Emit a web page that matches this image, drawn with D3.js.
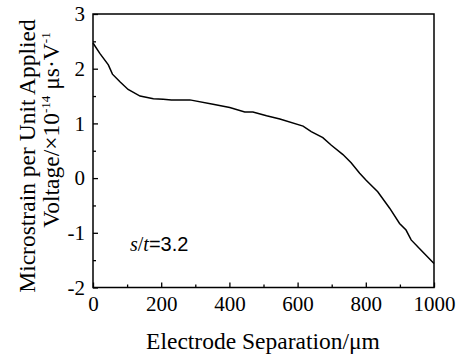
<!DOCTYPE html>
<html>
<head>
<meta charset="utf-8">
<script src="https://cdn.jsdelivr.net/npm/d3@7"></script>
<style>
  body { margin: 0; background: #fff; }
  svg text { font-family: "Liberation Serif", "Times New Roman", serif; fill: #000; }
</style>
</head>
<body>
<div id="chart"></div>
<script>
// data
const separation = [0, 20, 45, 57, 79, 103, 138, 177, 206, 230, 284, 352, 401, 445, 469, 509, 548,
  616, 640, 674, 699, 733, 757, 782, 801, 835, 870, 899, 918, 933, 958, 1000];
const microstrain = [2.47, 2.28, 2.07, 1.90, 1.76, 1.62, 1.50, 1.45, 1.44, 1.43, 1.43, 1.35, 1.29, 1.21, 1.21, 1.14, 1.08,
  0.95, 0.85, 0.74, 0.60, 0.43, 0.28, 0.09, -0.04, -0.25, -0.55, -0.83, -0.95, -1.13, -1.29, -1.56];
const xTicks = [0, 200, 400, 600, 800, 1000];
const yTicks = [-2, -1, 0, 1, 2, 3];

let width = 460, height = 356,
    margin = ({ top: 14, right: 26, bottom: 68.5, left: 93 });

const svg = d3.select("#chart").append("svg")
  .attr("width", width).attr("height", height);

let x = d3.scaleLinear().domain([0, 1000]).range([margin.left, width - margin.right]);
let y = d3.scaleLinear().domain([-2, 3]).range([height - margin.bottom, margin.top]);

// bottom axis, ticks inward (minor ticks first)
svg.append("g")
  .attr("transform", `translate(0,${height - margin.bottom})`)
  .call(d3.axisBottom(x).tickValues(d3.range(100, 1000, 200)).tickSize(-3).tickFormat(""))
  .call(g => g.select(".domain").remove());
svg.append("g")
  .attr("transform", `translate(0,${height - margin.bottom})`)
  .call(d3.axisBottom(x).tickValues(xTicks).tickSize(-5).tickPadding(9).tickFormat(d => String(d)))
  .call(g => g.select(".domain").remove())
  .call(g => g.selectAll("text").style("font-size", "21px"));

// left axis
svg.append("g")
  .attr("transform", `translate(${margin.left},0)`)
  .call(d3.axisLeft(y).tickValues(d3.range(-1.5, 3, 1)).tickSize(-3).tickFormat(""))
  .call(g => g.select(".domain").remove());
svg.append("g")
  .attr("transform", `translate(${margin.left},0)`)
  .call(d3.axisLeft(y).tickValues(yTicks).tickSize(-5).tickPadding(8).tickFormat(d => String(d)))
  .call(g => g.select(".domain").remove())
  .call(g => g.selectAll("text").style("font-size", "21px"));

svg.selectAll(".tick line").attr("stroke", "#000").attr("stroke-width", 1.3);

// frame
svg.append("rect")
  .attr("x", margin.left).attr("y", margin.top)
  .attr("width", width - margin.left - margin.right)
  .attr("height", height - margin.top - margin.bottom)
  .attr("fill", "none").attr("stroke", "#000").attr("stroke-width", 1.5);

// the curve
const line = d3.line().x((d, i) => x(separation[i])).y(d => y(d));
svg.append("path")
  .datum(microstrain)
  .attr("d", line)
  .attr("fill", "none")
  .attr("stroke", "#000")
  .attr("stroke-width", 1.5);

// annotation
const note = svg.append("text").attr("x", 130).attr("y", 251).style("font-size", "20px");
note.append("tspan").style("font-style", "italic").text("s");
note.append("tspan").text("/");
note.append("tspan").style("font-style", "italic").text("t");
note.append("tspan").style("font-family", "Liberation Sans, Arial, sans-serif").text("=3.2");

// axis titles
svg.append("text")
  .attr("x", 263).attr("y", 349)
  .attr("text-anchor", "middle").style("font-size", "23.5px")
  .text("Electrode Separation/μm");

const ylab = svg.append("g").attr("transform", "rotate(-90)");
ylab.append("text")
  .attr("x", -156).attr("y", 35)
  .attr("text-anchor", "middle").style("font-size", "23.5px")
  .text("Microstrain per Unit Applied");
const l2 = ylab.append("text")
  .attr("x", -130).attr("y", 59)
  .attr("text-anchor", "middle").style("font-size", "23.5px");
l2.append("tspan").text("Voltage/×10");
l2.append("tspan").attr("dy", -9).style("font-size", "13px").text("-14");
l2.append("tspan").attr("dy", 9).text(" μs·V");
l2.append("tspan").attr("dy", -9).style("font-size", "13px").text("-1");
</script>
</body>
</html>
